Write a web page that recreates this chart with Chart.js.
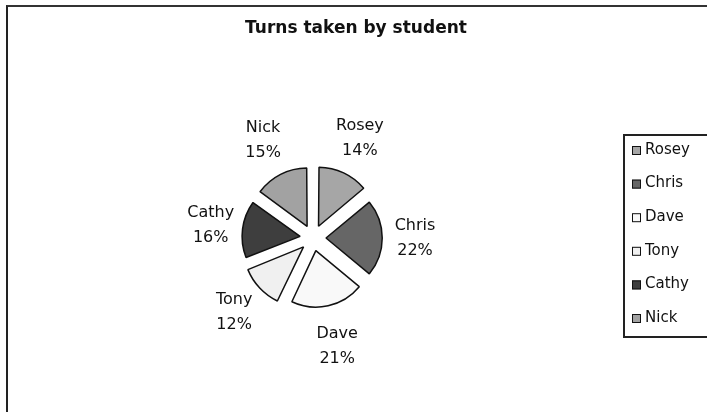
<!DOCTYPE html>
<html>
<head>
<meta charset="utf-8">
<script src="https://cdn.jsdelivr.net/npm/chart.js@4/dist/chart.umd.min.js"></script>
<style>
  html, body { margin: 0; padding: 0; background: #fff; }
  #wrap { position: relative; width: 707px; height: 412px; overflow: hidden; }
  #frame { position: absolute; left: 6px; top: 5px; width: 720px; height: 420px;
           border-left: 2px solid #222; border-top: 2px solid #333; }
  #c { position: absolute; left: 0; top: 0; }
</style>
</head>
<body>
<div id="wrap">
  <div id="frame"></div>
  <canvas id="c" width="707" height="412"></canvas>
</div>
<script>
const titleText = 'Turns taken by student';
const students = ['Rosey', 'Chris', 'Dave', 'Tony', 'Cathy', 'Nick'];
const turns = [14, 22, 21, 12, 16, 15];
const sliceColors = ['#a6a6a6', '#666666', '#f9f9f9', '#f0f0f0', '#3e3e3e', '#a2a2a2'];

// slice labels, title and the boxed legend on the right
const labelsPlugin = {
  id: 'labelsPlugin',
  afterDraw(chart) {
    const ctx = chart.ctx;
    const meta = chart.getDatasetMeta(0);
    const total = turns.reduce((a, b) => a + b, 0);

    ctx.save();
    ctx.fillStyle = '#111';
    ctx.textAlign = 'center';
    ctx.textBaseline = 'middle';

    ctx.font = 'bold 17px "DejaVu Sans"';
    ctx.fillText(titleText, 356, 29);

    ctx.font = '16px "DejaVu Sans"';
    meta.data.forEach((arc, i) => {
      const mid = (arc.startAngle + arc.endAngle) / 2;
      // labels sit a bit further out above and below the pie
      const d = 102 + 9 * Math.abs(Math.sin(mid));
      const lx = arc.x + Math.cos(mid) * d;
      const ly = arc.y + Math.sin(mid) * d;
      ctx.fillText(students[i], lx, ly - 12);
      ctx.fillText(Math.round(turns[i] / total * 100) + '%', lx, ly + 13);
    });

    // legend
    const bx = 624, by = 135, bh = 202;
    ctx.strokeStyle = '#222';
    ctx.lineWidth = 2;
    ctx.strokeRect(bx, by, 120, bh);
    ctx.font = '15px "DejaVu Sans"';
    ctx.textAlign = 'left';
    ctx.lineWidth = 1;
    students.forEach((s, i) => {
      const y = 150 + i * 33.6;
      ctx.fillStyle = sliceColors[i];
      ctx.fillRect(632, y - 4, 9, 9);
      ctx.strokeStyle = '#111';
      ctx.strokeRect(632.5, y - 3.5, 8, 8);
      ctx.fillStyle = '#111';
      ctx.fillText(s, 645, y);
    });
    ctx.restore();
  }
};

new Chart(document.getElementById('c'), {
  type: 'pie',
  data: {
    labels: students,
    datasets: [{
      data: turns,
      backgroundColor: sliceColors,
      borderColor: '#111',
      borderWidth: 1.5,
      // arc offset is divided by 4 when drawn, so 52 gives ~13px explosion
      offset: 52,
      radius: 56
    }]
  },
  options: {
    responsive: false,
    animation: false,
    layout: { padding: { left: 10, right: 91, top: 64, bottom: 0 } },
    plugins: {
      legend: { display: false },
      tooltip: { enabled: false },
      title: { display: false }
    }
  },
  plugins: [labelsPlugin]
});
</script>
</body>
</html>
